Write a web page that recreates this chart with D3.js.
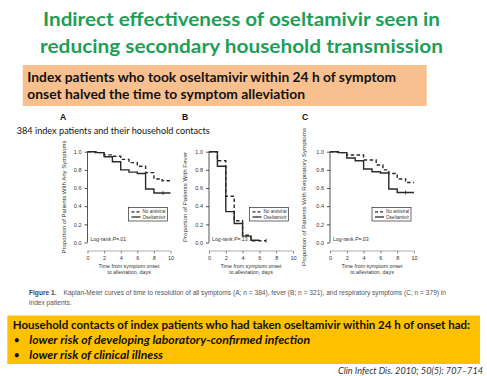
<!DOCTYPE html>
<html><head><meta charset="utf-8">
<script src="https://cdn.jsdelivr.net/npm/d3@7"></script>
<style>body{margin:0;background:#fff}svg{display:block}</style>
</head><body>
<script>
// ---------- data ----------
const titleLines = ["Indirect effectiveness of oseltamivir seen in", "reducing secondary household transmission"];
const orangeLines = ["Index patients who took oseltamivir within 24 h of symptom", "onset halved the time to symptom alleviation"];
const yellowHead = "Household contacts of index patients who had taken oseltamivir within 24 h of onset had:";
const yellowBullets = ["lower risk of developing laboratory-confirmed infection", "lower risk of clinical illness"];
const subtitle = "384 index patients and their household contacts";
const citation = "Clin Infect Dis. 2010; 50(5): 707\u2013714";
const panelLetters = ["A", "B", "C"];
const yTitles = ["Proportion of Patients With Any Symptoms", "Proportion of Patients With Fever", "Proportion of Patients With Respiratory Symptoms"];
const logRank = [".01", ".13", ".03"];
const xTicks = [0, 2, 4, 6, 8, 10];
const yTicks = [0, 0.2, 0.4, 0.6, 0.8, 1.0];
const legendLabels = ["No antiviral", "Oseltamivir"];

// step curves: times (days) and proportions
const A_osel_t = [0, 1, 2, 3, 4, 5, 6, 7, 8, 10];
const A_osel_s = [1.0, 0.99, 0.945, 0.89, 0.80, 0.775, 0.76, 0.59, 0.545, 0.545];
const A_none_t = [0, 1, 2, 3, 4, 5, 6, 7, 8, 9, 10];
const A_none_s = [1.0, 0.99, 0.965, 0.95, 0.915, 0.88, 0.84, 0.77, 0.70, 0.68, 0.68];
const B_osel_t = [0, 1, 2, 3, 4, 5, 6];
const B_osel_s = [1.0, 0.84, 0.34, 0.21, 0.07, 0.025, 0.025];
const B_none_t = [0, 1, 2, 3, 4, 5, 6.8];
const B_none_s = [1.0, 0.90, 0.51, 0.24, 0.08, 0.02, 0.02];
const C_osel_t = [0, 1, 2, 3, 4, 5, 6, 7, 8, 10];
const C_osel_s = [1.0, 0.99, 0.93, 0.90, 0.81, 0.78, 0.765, 0.59, 0.55, 0.55];
const C_none_t = [0, 1, 2, 4, 5.5, 6.3, 7, 8, 9, 10];
const C_none_s = [1.0, 0.99, 0.963, 0.908, 0.853, 0.80, 0.76, 0.70, 0.66, 0.66];
const censorOsel = [9.1, null, 9.0];
const censorNone = [null, 6.8, null];

const captionBold = "Figure 1.";
const captionRest = "Kaplan-Meier curves of time to resolution of all symptoms (A; n = 384), fever (B; n = 321), and respiratory symptoms (C; n = 379) in";
const captionLine2 = "index patients.";

// ---------- drawing ----------
const W = 487, H = 376;
const svg = d3.select("body").append("svg").attr("width", W).attr("height", H);
svg.append("rect").attr("width", W).attr("height", H).attr("fill", "#fff");

const titleFont = "Lato, 'Open Sans', sans-serif";
const green = "#1f9e58";
const tl = [{x0: 43, x1: 440, y: 26}, {x0: 40, x1: 443, y: 52.5}];
titleLines.forEach((t, i) => {
  svg.append("text").attr("x", tl[i].x0).attr("y", tl[i].y).text(t)
    .attr("font-family", titleFont).attr("font-weight", 700).attr("font-size", 19.5)
    .attr("fill", green).attr("textLength", tl[i].x1 - tl[i].x0).attr("lengthAdjust", "spacingAndGlyphs");
});

// orange box
svg.append("rect").attr("x", 22.7).attr("y", 65).attr("width", 404).attr("height", 41).attr("fill", "#f9c08f");
const ol = [{x1: 396, y: 82}, {x1: 305, y: 99}];
orangeLines.forEach((t, i) => {
  svg.append("text").attr("x", 27.3).attr("y", ol[i].y).text(t)
    .attr("font-family", titleFont).attr("font-weight", 700).attr("font-size", 12.5).attr("fill", "#111")
    .attr("textLength", ol[i].x1 - 27.3).attr("lengthAdjust", "spacingAndGlyphs");
});

svg.append("text").attr("x", 16.7).attr("y", 133.5).text(subtitle)
  .attr("font-family", titleFont).attr("font-size", 9.5).attr("fill", "#111")
  .attr("textLength", 193).attr("lengthAdjust", "spacingAndGlyphs");

// panels
const small = "'Liberation Sans', Arial, sans-serif";
const panels = [
  {x0: 87.5, x1: 170.5, letterX: 63, ytX: 66, ytLen: 113, osel: [A_osel_t, A_osel_s], none: [A_none_t, A_none_s], leg: 128.5},
  {x0: 209, x1: 293, letterX: 185, ytX: 187, ytLen: 90, osel: [B_osel_t, B_osel_s], none: [B_none_t, B_none_s], leg: 249.5},
  {x0: 330, x1: 414, letterX: 305, ytX: 305.5, ytLen: 138, osel: [C_osel_t, C_osel_s], none: [C_none_t, C_none_s], leg: 372}
];
const yTop = 151.7, yBot = 242.5, xAxisY = 251;
const ink = "#2a2a2a";

panels.forEach((p, i) => {
  const x = d3.scaleLinear().domain([0, 10]).range([p.x0, p.x1]);
  const y = d3.scaleLinear().domain([0, 1]).range([yBot, yTop]);
  const g = svg.append("g");

  g.append("text").attr("x", p.letterX).attr("y", 120).attr("text-anchor", "middle").text(panelLetters[i])
    .attr("font-family", small).attr("font-weight", 700).attr("font-size", 8.5).attr("fill", "#111");

  // y axis
  const ya = g.append("g").attr("transform", `translate(${p.x0},0)`)
    .call(d3.axisLeft(y).tickValues(yTicks).tickFormat(d3.format(".1f")).tickSize(3).tickPadding(3));
  ya.selectAll("path").attr("stroke", ink).attr("stroke-width", 0.8);
  ya.selectAll("line").attr("stroke", ink).attr("stroke-width", 0.8);
  ya.selectAll("text").attr("font-family", small).attr("font-size", 5.5).attr("fill", "#333");
  ya.select(".domain").attr("d", `M0,${yBot}V${yTop}`);

  // x axis (offset)
  const xa = g.append("g").attr("transform", `translate(0,${xAxisY})`)
    .call(d3.axisBottom(x).tickValues(xTicks).tickFormat(d3.format("d")).tickSize(2.5).tickPadding(3));
  xa.selectAll("path").attr("stroke", "#777").attr("stroke-width", 0.6);
  xa.selectAll("line").attr("stroke", "#555").attr("stroke-width", 0.7);
  xa.selectAll("text").attr("font-family", small).attr("font-size", 5.5).attr("fill", "#333");
  xa.select(".domain").attr("d", `M${p.x0},0H${p.x1}`);

  const xc = (p.x0 + p.x1) / 2;
  g.append("text").attr("x", xc).attr("y", 267.5).attr("text-anchor", "middle").text("Time from symptom onset")
    .attr("font-family", small).attr("font-size", 5.3).attr("fill", "#333");
  g.append("text").attr("x", xc).attr("y", 274).attr("text-anchor", "middle").text("to alleviation, days")
    .attr("font-family", small).attr("font-size", 5.3).attr("fill", "#333");

  g.append("text").attr("transform", `translate(${p.ytX},197) rotate(-90)`).attr("text-anchor", "middle")
    .text(yTitles[i]).attr("font-family", small).attr("font-size", 5.5).attr("fill", "#333")
    .attr("textLength", p.ytLen).attr("lengthAdjust", "spacingAndGlyphs");

  // log-rank
  const lr = g.append("text").attr("x", p.x0 + 3).attr("y", yBot - 1.2)
    .attr("font-family", small).attr("font-size", 5.2).attr("fill", "#333");
  lr.append("tspan").text("Log-rank ");
  lr.append("tspan").attr("font-style", "italic").text("P");
  lr.append("tspan").text("=" + logRank[i]);

  const line = d3.line().x(d => x(d[0])).y(d => y(d[1])).curve(d3.curveStepAfter);
  const oselPts = p.osel[0].map((t, k) => [t, p.osel[1][k]]);
  const nonePts = p.none[0].map((t, k) => [t, p.none[1][k]]);
  g.append("path").attr("d", line(nonePts)).attr("fill", "none").attr("stroke", ink)
    .attr("stroke-width", 1.4).attr("stroke-dasharray", "3.5,2.5");
  g.append("path").attr("d", line(oselPts)).attr("fill", "none").attr("stroke", ink).attr("stroke-width", 1.4);

  // censor marks
  const stepVal = (ts, ss, t) => { let v = ss[0]; ts.forEach((tt, k) => { if (tt <= t) v = ss[k]; }); return v; };
  if (censorOsel[i] != null) {
    const cy = y(stepVal(p.osel[0], p.osel[1], censorOsel[i]));
    g.append("line").attr("x1", x(censorOsel[i])).attr("x2", x(censorOsel[i])).attr("y1", cy - 2).attr("y2", cy + 2)
      .attr("stroke", ink).attr("stroke-width", 0.8);
  }
  if (censorNone[i] != null) {
    const cy = y(stepVal(p.none[0], p.none[1], censorNone[i]));
    g.append("line").attr("x1", x(censorNone[i])).attr("x2", x(censorNone[i])).attr("y1", cy - 2).attr("y2", cy + 2)
      .attr("stroke", ink).attr("stroke-width", 0.8);
  }

  // legend
  const lx = p.leg, ly = 207.5, lw = 39, lh = 13.5;
  const lg = g.append("g");
  lg.append("rect").attr("x", lx).attr("y", ly).attr("width", lw).attr("height", lh)
    .attr("fill", "#fff").attr("stroke", ink).attr("stroke-width", 0.7);
  legendLabels.forEach((lab, k) => {
    const yy = ly + 4.3 + k * 5.2;
    lg.append("line").attr("x1", lx + 3).attr("x2", lx + 12).attr("y1", yy).attr("y2", yy)
      .attr("stroke", ink).attr("stroke-width", 1.3).attr("stroke-dasharray", k === 0 ? "3,2" : null);
    lg.append("text").attr("x", lx + 14).attr("y", yy + 1.6).text(lab)
      .attr("font-family", small).attr("font-size", 4.6).attr("fill", "#333");
  });
});

// caption
const cap = svg.append("text").attr("x", 29).attr("y", 295).attr("font-family", "'Liberation Sans Narrow', 'Liberation Sans', sans-serif")
  .attr("font-size", 6.6).attr("fill", "#555");
cap.append("tspan").attr("font-weight", 700).attr("fill", "#445").text(captionBold);
svg.append("text").attr("x", 63.5).attr("y", 295).text(captionRest)
  .attr("font-family", "'Liberation Sans Narrow', 'Liberation Sans', sans-serif").attr("font-size", 6.6).attr("fill", "#555")
  .attr("textLength", 446 - 63.5).attr("lengthAdjust", "spacingAndGlyphs");
svg.append("text").attr("x", 29).attr("y", 305).text(captionLine2)
  .attr("font-family", "'Liberation Sans Narrow', 'Liberation Sans', sans-serif").attr("font-size", 6.6).attr("fill", "#555");

// yellow box
svg.append("rect").attr("x", 7.3).attr("y", 315.5).attr("width", 472.7).attr("height", 48.5).attr("fill", "#ffc000");
svg.append("text").attr("x", 12.7).attr("y", 328.5).text(yellowHead)
  .attr("font-family", titleFont).attr("font-weight", 700).attr("font-size", 11.5).attr("fill", "#111")
  .attr("textLength", 470 - 12.7).attr("lengthAdjust", "spacingAndGlyphs");
const bl = [{x1: 310, y: 343.5}, {x1: 163, y: 358.5}];
yellowBullets.forEach((t, i) => {
  svg.append("text").attr("x", 13.5).attr("y", bl[i].y).text("\u2022")
    .attr("font-family", titleFont).attr("font-size", 11).attr("fill", "#111");
  svg.append("text").attr("x", 29.3).attr("y", bl[i].y).text(t)
    .attr("font-family", titleFont).attr("font-weight", 700).attr("font-style", "italic").attr("font-size", 11.5).attr("fill", "#111")
    .attr("textLength", bl[i].x1 - 29.3).attr("lengthAdjust", "spacingAndGlyphs");
});

svg.append("text").attr("x", 483).attr("y", 373.5).attr("text-anchor", "end").text(citation)
  .attr("font-family", titleFont).attr("font-style", "italic").attr("font-size", 9).attr("fill", "#333")
  .attr("textLength", 145).attr("lengthAdjust", "spacingAndGlyphs");
</script>
</body></html>
